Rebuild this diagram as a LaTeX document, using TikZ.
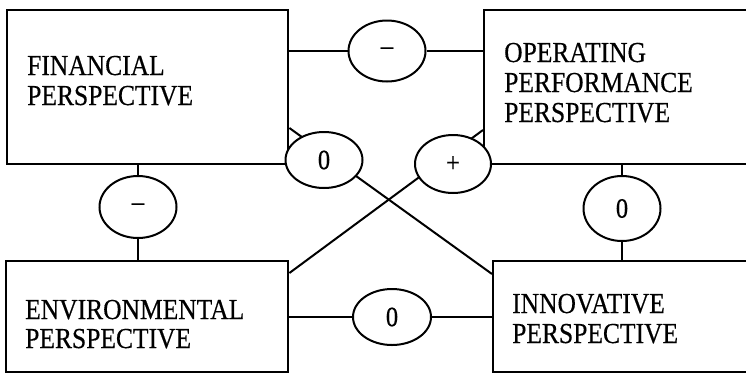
\documentclass[tikz,border=0pt]{standalone}
\usepackage{fontspec}
\setmainfont[FakeStretch=0.88, FakeBold=0.4]{Liberation Serif}
\usetikzlibrary{shapes.geometric}

\pgfdeclarelayer{paper}
\pgfdeclarelayer{links}
\pgfsetlayers{paper,links,main}

\tikzset{
  persp/.style={draw, line width=2.4pt, rectangle, inner sep=0pt, anchor=north west},
  persptext/.style={inner sep=0pt, anchor=base west, align=left,
    font=\fontsize{29}{30}\selectfont},
  sign/.style={draw, ellipse, fill=white, line width=2pt, inner sep=0pt,
    font=\fontsize{28}{28}\selectfont},
  link/.style={line width=2pt}
}

\begin{document}
\begin{tikzpicture}[x=1pt, y=-1pt]
  \useasboundingbox (0,0) rectangle (746,373);
  \clip (0,0) rectangle (746,373);
  \begin{pgfonlayer}{paper}
    \fill[white] (0,0) rectangle (746,373);
  \end{pgfonlayer}

  % the four perspectives
  \node[persp, minimum width=281pt, minimum height=154pt] (fin) at (6,9) {};
  \node[persp, minimum width=270pt, minimum height=154pt] (op)  at (483,9) {};
  \node[persp, minimum width=282pt, minimum height=111pt] (env) at (5,260) {};
  \node[persp, minimum width=261pt, minimum height=111pt] (inn) at (492,260) {};

  % captions (anchored at the baseline of their last line)
  \node[persptext] (fintxt) at (27,105)  {FINANCIAL\\PERSPECTIVE};
  \node[persptext] (optxt)  at (504,122) {OPERATING\\PERFORMANCE\\PERSPECTIVE};
  \node[persptext, font=\fontsize{29}{29}\selectfont] (envtxt) at (25,348) {ENVIRONMENTAL\\PERSPECTIVE};
  \node[persptext] (inntxt) at (512,343) {INNOVATIVE\\PERSPECTIVE};

  % relation signs
  \node[sign, minimum width=77pt, minimum height=61pt] (sFO) at (387,51)    {–};
  \node[sign, minimum width=77pt, minimum height=56pt] (sFI) at (324,160)   {0};
  \node[sign, minimum width=76pt, minimum height=58pt] (sOE) at (453,164)   {+};
  \node[sign, minimum width=77pt, minimum height=62pt] (sFE) at (138,207)   {–};
  \node[sign, minimum width=77pt, minimum height=65pt] (sOI) at (622,208.5) {0};
  \node[sign, minimum width=78pt, minimum height=56pt] (sEI) at (392,317)   {0};

  % ends of the two crossing links
  \coordinate (d1a) at (fin.east |- 0,128);
  \coordinate (d1b) at (inn.west |- 0,274);
  \coordinate (d2a) at (env.east |- 0,273);
  \coordinate (d2b) at (op.west |- 0,130);

  % links sit below the signs
  \begin{pgfonlayer}{links}
    \draw[link] (d1a) -- (d1b);
    \draw[link] (d2a) -- (d2b);
    \draw[link] (sFO.west) -- (sFO.west -| fin.east);
    \draw[link] (sFO.east) -- (sFO.east -| op.west);
    \draw[link] (sFE.north) -- (sFE.north |- fin.south);
    \draw[link] (sFE.south) -- (sFE.south |- env.north);
    \draw[link] (sOI.north) -- (sOI.north |- op.south);
    \draw[link] (sOI.south) -- (sOI.south |- inn.north);
    \draw[link] (sEI.west) -- (sEI.west -| env.east);
    \draw[link] (sEI.east) -- (sEI.east -| inn.west);
  \end{pgfonlayer}
\end{tikzpicture}
\end{document}
